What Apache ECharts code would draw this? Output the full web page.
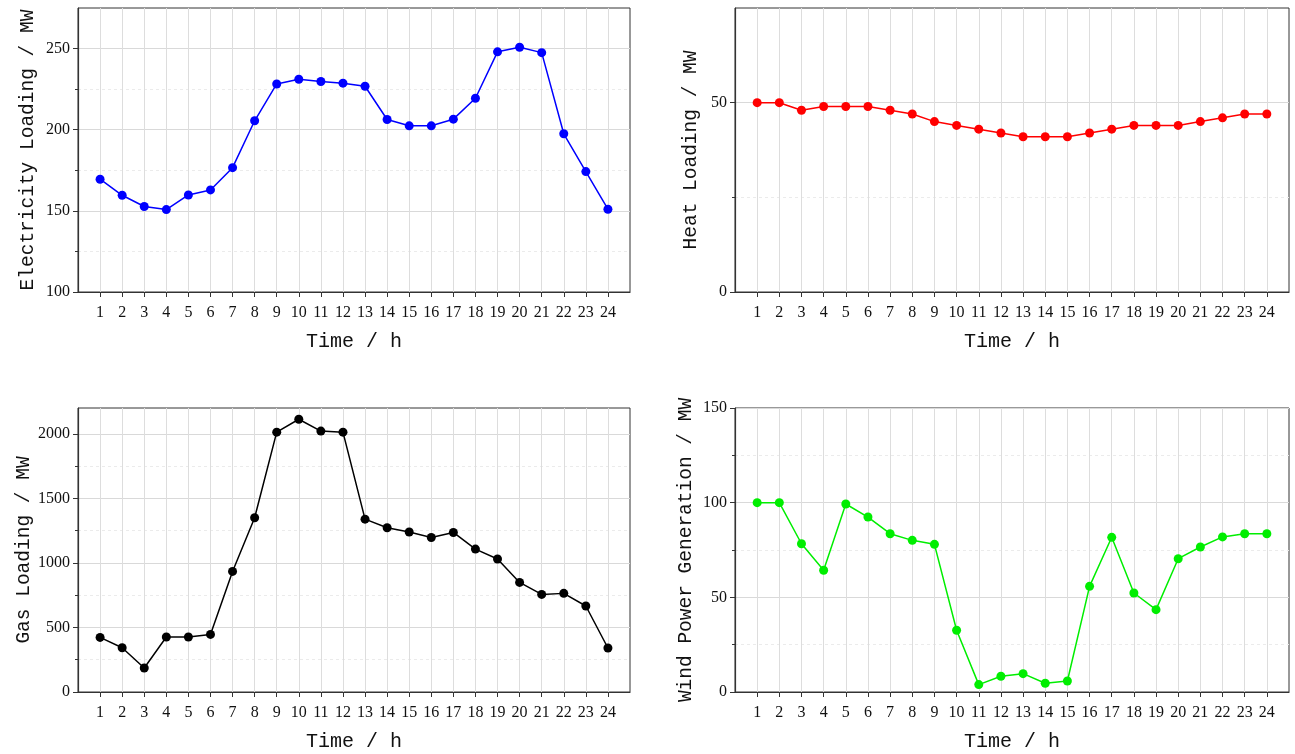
<!DOCTYPE html>
<html>
<head>
<meta charset="utf-8">
<script src="https://cdn.jsdelivr.net/npm/echarts@6.0.0/dist/echarts.min.js"></script>
<style>html,body{margin:0;padding:0;background:#fff;}#chart{width:1295px;height:754px;}</style>
</head>
<body>
<div id="chart"></div>
<script>
const hours = [1,2,3,4,5,6,7,8,9,10,11,12,13,14,15,16,17,18,19,20,21,22,23,24];
const electricity = [169.5,159.6,152.7,150.8,159.8,162.9,176.6,205.5,228.2,231.1,229.7,228.7,226.8,206.3,202.4,202.4,206.5,219.4,248,250.8,247.5,197.5,174.2,151];
const heat = [50,50,48,49,49,49,48,47,45,44,43,42,41,41,41,42,43,44,44,44,45,46,47,47];
const gas = [423,343,186,426,426,446,934,1350,2013,2113,2021,2013,1339,1272,1239,1197,1236,1107,1030,849,756,764,666,341];
const wind = [100,100,78.3,64.3,99.3,92.4,83.6,80.1,78,32.6,3.9,8.3,9.7,4.6,5.8,55.8,81.7,52.3,43.5,70.4,76.6,81.9,83.6,83.6];

const elecMajor = [100,150,200,250], elecMinor = [125,175,225];
const heatMajor = [0,50], heatMinor = [25];
const gasMajor = [0,500,1000,1500,2000], gasMinor = [250,750,1250,1750];
const windMajor = [0,50,100,150], windMinor = [25,75,125];

const panels = [
  {name:'Electricity Loading / MW', data:electricity, color:'#0000ff', min:100, max:275, major:elecMajor, minor:elecMinor, gap:40},
  {name:'Heat Loading / MW', data:heat, color:'#ff0000', min:0, max:75, major:heatMajor, minor:heatMinor, gap:34},
  {name:'Gas Loading / MW', data:gas, color:'#000000', min:0, max:2200, major:gasMajor, minor:gasMinor, gap:40},
  {name:'Wind Power Generation / MW', data:wind, color:'#00ee00', min:0, max:150, major:windMajor, minor:windMinor, gap:39}
];
const grids = [
  {left:78, top:8, right:665, bottom:462},
  {left:735, top:8, right:6, bottom:462},
  {left:78, top:408, right:665, bottom:62},
  {left:735, top:408, right:6, bottom:62}
];

const axisColor = '#333';
const textColor = '#111';
const monoFont = 'Liberation Mono';
const numFont = 'Liberation Serif';

const option = {
  animation:false,
  backgroundColor:'#fff',
  grid: grids.map(g => Object.assign({show:true, borderColor:axisColor, borderWidth:1, containLabel:false}, g)),
  xAxis: panels.map((p,i) => ({
    gridIndex:i, type:'value', min:0, max:25,
    name:'Time / h', nameLocation:'middle', nameGap:40,
    nameTextStyle:{fontFamily:monoFont, fontSize:20, color:textColor},
    axisLine:{show:true, onZero:false, lineStyle:{color:axisColor, width:1.2}},
    axisTick:{show:true, customValues:hours, length:5, lineStyle:{color:axisColor}},
    axisLabel:{show:true, customValues:hours, margin:13, fontFamily:numFont, fontSize:16, color:textColor},
    splitLine:{show:true, lineStyle:{color:'#dddddd', width:1}}
  })),
  yAxis: [].concat(...panels.map((p,i) => ([
    {
      gridIndex:i, type:'value', position:'left', min:p.min, max:p.max,
      name:p.name, nameLocation:'middle', nameGap:p.gap, nameRotate:90,
      nameTextStyle:{fontFamily:monoFont, fontSize:19.5, color:textColor},
      axisLine:{show:true, onZero:false, lineStyle:{color:axisColor, width:1.2}},
      axisTick:{show:true, customValues:p.major, length:5, lineStyle:{color:axisColor}},
      axisLabel:{show:true, customValues:p.major, margin:8, fontFamily:numFont, fontSize:16, color:textColor,
                 formatter: v => String(v)},
      splitLine:{show:true, lineStyle:{color:'#d9d9d9', width:1}}
    },
    {
      gridIndex:i, type:'value', position:'left', min:p.min, max:p.max,
      axisLine:{show:false, onZero:false},
      axisTick:{show:true, customValues:p.minor, length:3, lineStyle:{color:axisColor}},
      axisLabel:{show:false, customValues:p.minor},
      splitLine:{show:true, lineStyle:{color:'#ebebeb', width:1, type:[3,3]}}
    }
  ]))),
  series: panels.map((p,i) => ({
    type:'line', xAxisIndex:i, yAxisIndex:i*2,
    data: hours.map((h,k) => [h, p.data[k]]),
    symbol:'circle', symbolSize:9,
    lineStyle:{color:p.color, width:1.5},
    itemStyle:{color:p.color},
    z:5
  }))
};

const chart = echarts.init(document.getElementById('chart'), null, {renderer:'canvas'});
chart.setOption(option);
</script>
</body>
</html>
